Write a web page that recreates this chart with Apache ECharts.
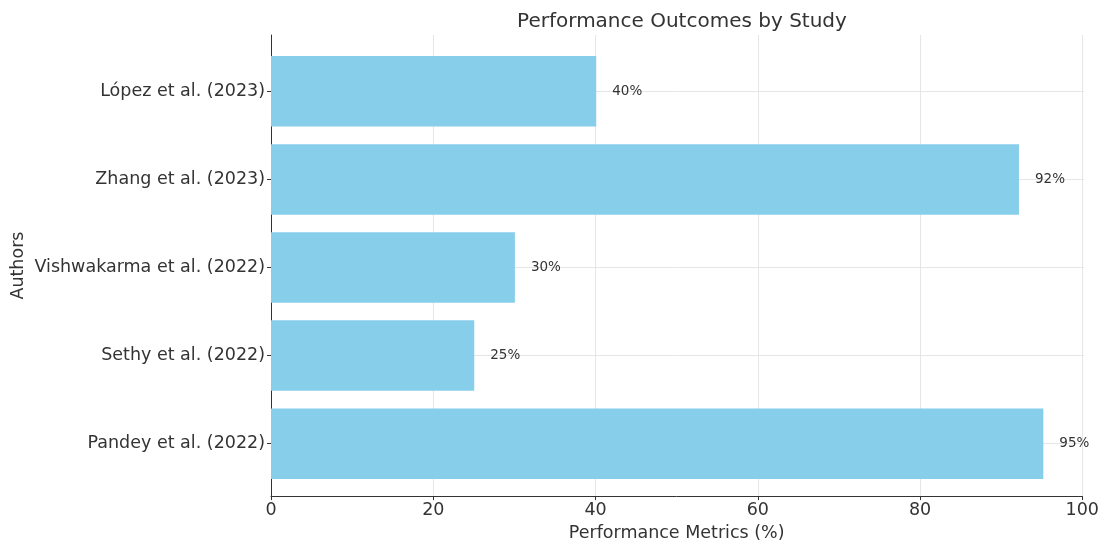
<!DOCTYPE html>
<html>
<head>
<meta charset="utf-8">
<script src="https://cdn.jsdelivr.net/npm/echarts@6/dist/echarts.min.js"></script>
<style>
  html, body { margin: 0; padding: 0; background: #fff; }
  #chart { width: 1102px; height: 547px; }
</style>
</head>
<body>
<div id="chart"></div>
<script>
// Studies, listed bottom to top
const authors = [
  'Pandey et al. (2022)',
  'Sethy et al. (2022)',
  'Vishwakarma et al. (2022)',
  'Zhang et al. (2023)',
  'López et al. (2023)'
];
// Reported performance (%)
const performance = [95, 25, 30, 92, 40];
// Horizontal scale ticks
const xTicks = [0, 20, 40, 60, 80, 100];

const FONT = 'DejaVu Sans';
const TEXT = '#333';
const GRID_LINE = '#e6e6e6';

const chart = echarts.init(document.getElementById('chart'), null, { renderer: 'canvas' });

chart.setOption({
  backgroundColor: '#fff',
  animation: false,
  title: {
    text: 'Performance Outcomes by Study',
    left: 677, top: 7, textAlign: 'center',
    textStyle: { fontFamily: FONT, fontSize: 20, fontWeight: 'normal', color: TEXT }
  },
  grid: [
    // outer frame: value scale, vertical grid lines, spines
    { left: 271, right: 18, top: 35, bottom: 47, containLabel: false },
    // inner band area for the bars (padded like the outer frame's margins)
    { left: 271, right: 18, top: 47.3, bottom: 59.3, containLabel: false }
  ],
  xAxis: [
    {
      gridIndex: 0, type: 'value', min: xTicks[0], max: xTicks[xTicks.length - 1], interval: 20,
      name: 'Performance Metrics (%)', nameLocation: 'middle', nameGap: 26,
      nameTextStyle: { fontFamily: FONT, fontSize: 17.5, color: TEXT },
      axisLine: { show: true, lineStyle: { color: '#333', width: 1 } },
      axisTick: { show: true, length: 4, lineStyle: { color: '#333' } },
      axisLabel: { fontFamily: FONT, fontSize: 17.5, color: TEXT, margin: 5 },
      splitLine: { show: true, lineStyle: { color: GRID_LINE, width: 1 } }
    },
    {
      gridIndex: 1, type: 'value', min: xTicks[0], max: xTicks[xTicks.length - 1], show: false
    }
  ],
  yAxis: [
    {
      gridIndex: 0, type: 'value', min: 0, max: 1,
      name: 'Authors', nameLocation: 'middle', nameGap: 244, nameRotate: 90,
      nameTextStyle: { fontFamily: FONT, fontSize: 17.5, color: TEXT },
      axisLine: { show: true, lineStyle: { color: '#333', width: 1 } },
      axisTick: { show: false }, axisLabel: { show: false }, splitLine: { show: false }
    },
    {
      gridIndex: 1, type: 'category', data: authors,
      axisLine: { show: false },
      axisTick: { show: true, alignWithLabel: true, length: 4, lineStyle: { color: '#333' } },
      axisLabel: { fontFamily: FONT, fontSize: 17.5, color: TEXT, margin: 6 },
      splitLine: { show: false }
    }
  ],
  series: [{
    type: 'bar',
    xAxisIndex: 1, yAxisIndex: 1,
    data: performance,
    barWidth: '80%',
    z: 3,
    itemStyle: { color: '#87CEEB' },
    label: {
      show: true, position: 'right', distance: 16,
      formatter: p => p.value + '%',
      fontFamily: FONT, fontSize: 13.5, color: TEXT
    },
    // horizontal grid lines through each study's row
    markLine: {
      silent: true, z: 1, symbol: 'none',
      label: { show: false },
      lineStyle: { type: 'solid', color: GRID_LINE, width: 1 },
      data: authors.map(a => ({ yAxis: a }))
    }
  }]
});
</script>
</body>
</html>
